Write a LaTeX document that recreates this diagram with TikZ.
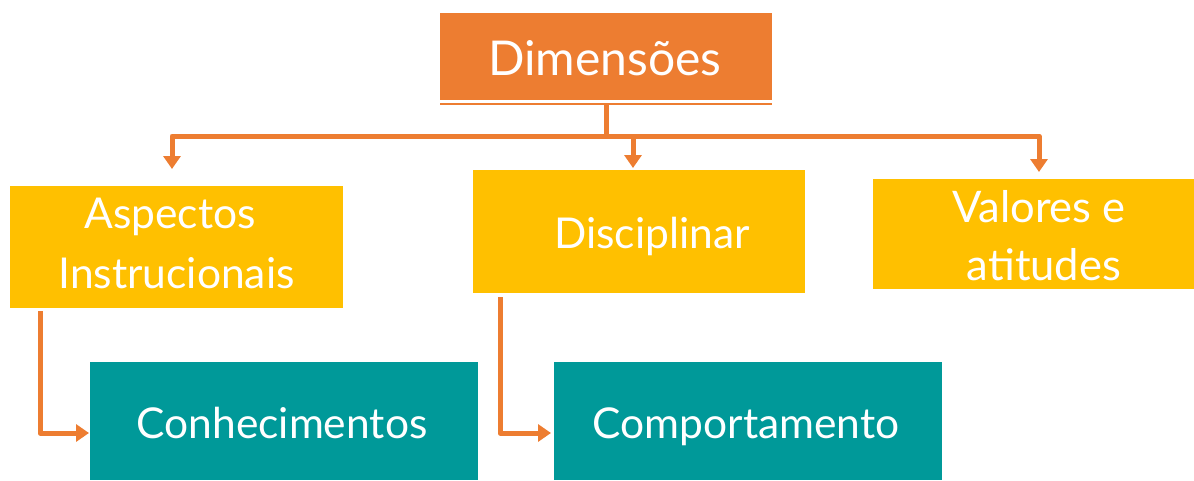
\documentclass[tikz,border=0pt]{standalone}
\usepackage{fontspec}
\setmainfont{Lato}
\usetikzlibrary{arrows.meta}
\definecolor{dorange}{HTML}{ED7D31}
\definecolor{dyellow}{HTML}{FFC000}
\definecolor{dteal}{HTML}{009999}
\begin{document}
\begin{tikzpicture}[x=1pt,y=-1pt,
  box/.style={rectangle,inner sep=0pt,outer sep=0pt,draw=none},
  lbl/.style={anchor=base,inner sep=0pt,text=white,font=\fontsize{42.5}{50}\selectfont},
  conn/.style={draw=dorange,line width=5pt,line join=round,
    -{Triangle[width=17pt,length=13pt]}}]
\useasboundingbox (0,0) rectangle (1194,480);
% boxes
\node[box,fill=dorange,minimum width=332pt,minimum height=87pt] (dim) at (606,56.5) {};
\draw[dorange,line width=2pt] (440,104) -- (772,104);
\node[box,fill=dyellow,minimum width=333pt,minimum height=122pt] (asp) at (176.5,247) {};
\node[box,fill=dyellow,minimum width=332pt,minimum height=123pt] (dis) at (639,231.5) {};
\node[box,fill=dyellow,minimum width=321pt,minimum height=110pt] (val) at (1033.5,234) {};
\node[box,fill=dteal,minimum width=388pt,minimum height=118pt] (con) at (284,421) {};
\node[box,fill=dteal,minimum width=388pt,minimum height=118pt] (com) at (748,421) {};
% labels
\node[lbl,font=\fontsize{48}{56}\selectfont] (tdim) at (605,75) {Dimensões};
\node[lbl] (tasp1) at (170,228) {Aspectos};
\node[lbl] (tasp2) at (176.5,288) {Instrucionais};
\node[lbl] (tdis) at (652,248) {Disciplinar};
\node[lbl,font=\fontsize{43.5}{50}\selectfont] (tval1) at (1039,222) {Valores e};
\node[lbl,font=\fontsize{43.5}{50}\selectfont] (tval2) at (1044,280) {atitudes};
\node[lbl] (tcon) at (282,438) {Conhecimentos};
\node[lbl] (tcom) at (746,438) {Comportamento};
% connectors
\coordinate (top) at (606,104);
\coordinate (bus) at (606,136);
\coordinate (aspin) at (172,169);
\coordinate (disin) at (633,168);
\coordinate (valin) at (1039,172);
\coordinate (aspout) at (40,311);
\coordinate (disout) at (500,297);
\coordinate (conin) at (89,433);
\coordinate (comin) at (551,433);
\draw[conn,-] (top) -- (bus);
\draw[conn] (bus) -| (aspin);
\draw[conn] (bus) -| (disin);
\draw[conn] (bus) -| (valin);
\draw[conn] (aspout) |- (conin);
\draw[conn] (disout) |- (comin);
\end{tikzpicture}
\end{document}
